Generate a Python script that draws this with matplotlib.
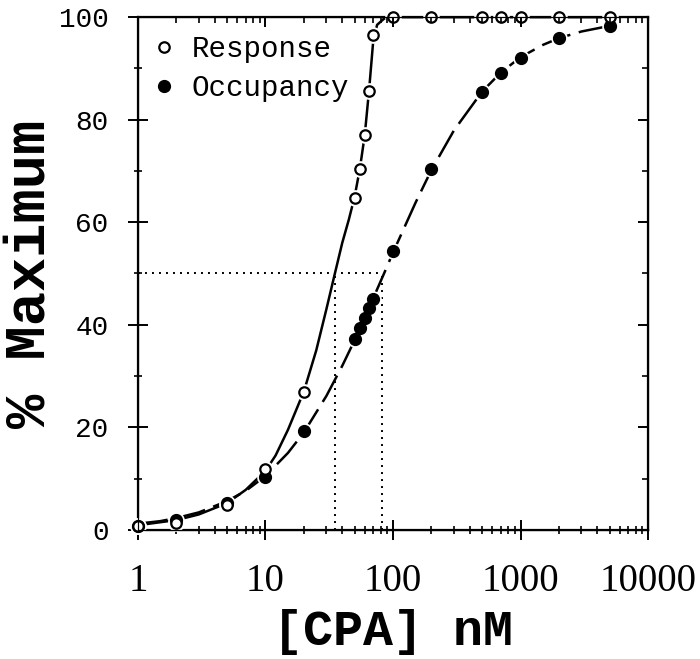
import numpy as np
import matplotlib
matplotlib.use("Agg")
import matplotlib.pyplot as plt
from matplotlib.lines import Line2D
from matplotlib.ticker import LogLocator, NullFormatter, MultipleLocator

# measured points, [CPA] in nM, % of maximum
conc = [1, 2, 5, 10, 20, 50, 55, 60, 65, 70, 100, 200, 500, 700, 1000, 2000, 5000]
response = [0.7, 1.4, 4.9, 11.8, 26.8, 64.7, 70.4, 77.1, 85.6, 96.5,
            100, 100, 100, 100, 100, 100, 100]
occupancy = [0.7, 2.0, 5.2, 10.3, 19.2, 37.2, 39.3, 41.4, 43.2, 45.1,
             54.3, 70.4, 85.4, 89.1, 92.1, 95.9, 98.3]

# fitted curves
resp_fit_x = [1, 2, 3, 5, 7, 10, 12, 15, 20, 25, 30, 35, 40, 45, 50, 55, 60,
              65, 70, 75, 85, 100, 200, 500, 1000, 2000, 5000]
resp_fit_y = [0.9, 1.9, 3.0, 5.2, 7.8, 11.5, 14.5, 19.5, 27, 35, 43, 50, 56,
              60.5, 65, 70.5, 77, 86, 95.5, 98.5, 99.7, 100, 100, 100, 100, 100, 100]
occ_fit_x = [1, 1.5, 2, 3, 5, 7, 10, 15, 20, 30, 40, 50, 60, 70, 85, 100, 150,
             200, 300, 500, 700, 1000, 1500, 2000, 3000, 5000]
occ_fit_y = [1.2, 1.7, 2.3, 3.4, 5.6, 7.6, 10.5, 15.0, 19.0, 26.1, 32.0, 37.0,
             41.4, 45.2, 50.0, 54.1, 63.8, 70.2, 77.9, 85.5, 89.2, 92.2, 94.6,
             95.9, 97.2, 98.3]

# half-maximal concentrations (dotted guides)
ec50_resp = 35
ec50_occ = 82

fig = plt.figure(figsize=(7, 6.59), dpi=100)
ax = fig.add_axes([0.197, 0.196, 0.729, 0.778])

ax.plot(resp_fit_x, resp_fit_y, color="black", lw=1.8, zorder=2)
ax.plot(occ_fit_x, occ_fit_y, color="black", lw=1.8, dashes=(12, 3.5), zorder=2)

# dotted guides at 50 %
dot = dict(color="black", lw=1.4, linestyle=(0, (1, 2.6)), zorder=1)
ax.plot([1, ec50_occ], [50, 50], **dot)
ax.plot([ec50_resp, ec50_resp], [0, 50], **dot)
ax.plot([ec50_occ, ec50_occ], [0, 50], **dot)

# white halos so the lines break around the symbols
ax.plot(conc, response, "o", ms=12, mfc="white", mec="none", zorder=3, clip_on=False)
ax.plot(conc, occupancy, "o", ms=12, mfc="white", mec="none", zorder=3, clip_on=False)
ax.plot(conc, occupancy, "o", ms=8.5, mfc="black", mec="black", zorder=4, clip_on=False)
ax.plot(conc, response, "o", ms=7.5, mfc="white", mec="black", mew=1.6, zorder=5, clip_on=False)

ax.set_xscale("log")
ax.set_xlim(1, 10000)
ax.set_ylim(0, 100)
ax.xaxis.set_minor_locator(LogLocator(base=10, subs=np.arange(2, 10)))
ax.xaxis.set_minor_formatter(NullFormatter())
ax.set_xticks([1, 10, 100, 1000, 10000])
ax.set_xticklabels(["1", "10", "100", "1000", "10000"], family="Liberation Serif", fontsize=28)
ax.yaxis.set_major_locator(MultipleLocator(20))
ax.yaxis.set_minor_locator(MultipleLocator(10))
for lab in ax.get_yticklabels():
    lab.set_family("Liberation Mono")
    lab.set_fontsize(20)

ax.tick_params(which="major", direction="inout", length=14, width=1.4)
ax.tick_params(which="minor", direction="inout", length=6, width=1.2)
ax.tick_params(axis="x", pad=17)
ax.tick_params(axis="y", pad=14)
for s in ax.spines.values():
    s.set_linewidth(1.6)

# inward ticks on top and right
axt = ax.twiny()
axt.set_xscale("log")
axt.set_xlim(1, 10000)
axt.xaxis.set_minor_locator(LogLocator(base=10, subs=np.arange(2, 10)))
axt.tick_params(which="major", direction="in", length=7, width=1.4, labeltop=False)
axt.tick_params(which="minor", direction="in", length=4, width=1.2)
axr = ax.twinx()
axr.set_ylim(0, 100)
axr.yaxis.set_major_locator(MultipleLocator(20))
axr.yaxis.set_minor_locator(MultipleLocator(10))
axr.tick_params(which="major", direction="in", length=7, width=1.4, labelright=False)
axr.tick_params(which="minor", direction="in", length=4, width=1.2)

ax.set_xlabel("[CPA] nM", family="Liberation Mono", weight="bold", fontsize=36)
ax.set_ylabel("% Maximum", family="Liberation Mono", weight="bold", fontsize=41)
ax.xaxis.set_label_coords(0.5, -0.155)
ax.yaxis.set_label_coords(-0.16, 0.5)

handles = [
    Line2D([], [], ls="none", marker="o", ms=7.5, mfc="white", mec="black", mew=1.6),
    Line2D([], [], ls="none", marker="o", ms=8.5, mfc="black", mec="black"),
]
ax.legend(handles, ["Response", "Occupancy"], loc="upper left", frameon=False,
          bbox_to_anchor=(0.0, 0.993),
          prop={"family": "Liberation Mono", "size": 21},
          handlelength=0.8, handletextpad=0.55, labelspacing=0.38,
          borderpad=0.0, borderaxespad=0.5)

fig.savefig("out.png", dpi=100)
